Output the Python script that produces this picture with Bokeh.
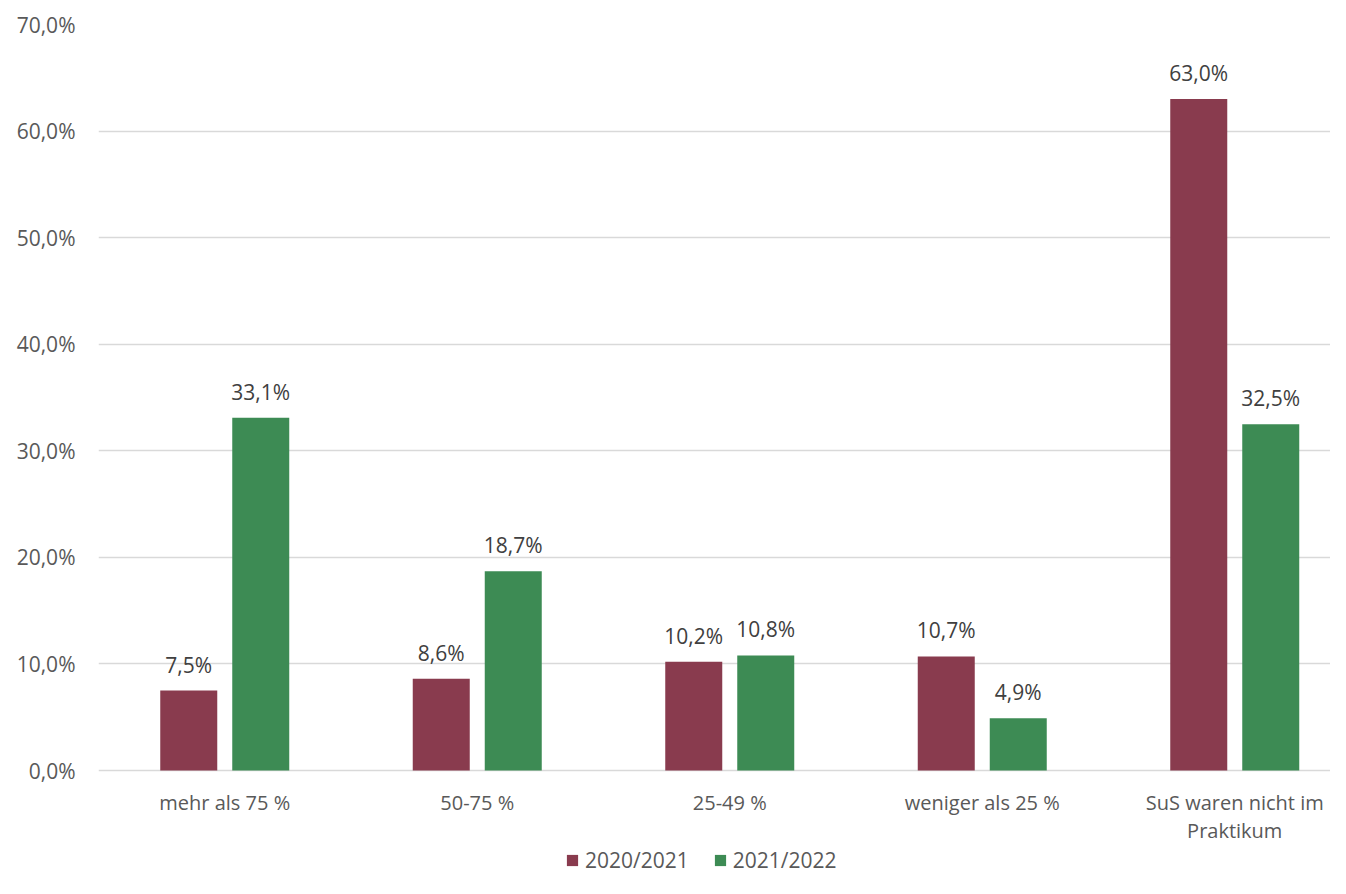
from bokeh.plotting import figure
from bokeh.models import ColumnDataSource, Range1d, FixedTicker, LabelSet, Legend, LegendItem
from bokeh.transform import dodge
from bokeh.core.properties import value
from bokeh.embed import file_html
from bokeh.resources import INLINE

categories = ["mehr als 75 %", "50-75 %", "25-49 %", "weniger als 25 %", "SuS waren nicht im\nPraktikum"]
series_names = ["2020/2021", "2021/2022"]
values_2020 = [7.5, 8.6, 10.2, 10.7, 63.0]
values_2021 = [33.1, 18.7, 10.8, 4.9, 32.5]
y_ticks = [0, 10, 20, 30, 40, 50, 60, 70]
colors = ["#893B4E", "#3D8B54"]

FONT = "Open Sans"
FS = "21px"
W, H = 1330, 878
LEFT, TOP = 98, 24
ZERO_Y = 770            # pixel row of the 0 % line
cat_px = 252.5
frame_w = W - LEFT
px_per_unit = (ZERO_Y - TOP) / 70.0
y_bottom = -(H - ZERO_Y) / px_per_unit

def fmt(v):
    return f"{v:.1f}".replace(".", ",") + "%"

lines = [c.split("\n") for c in categories]
src = ColumnDataSource(dict(
    xi=list(range(len(categories))),
    cat1=[l[0] for l in lines],
    cat2=[l[1] if len(l) > 1 else "" for l in lines],
    zero=[0] * len(categories),
    v1=values_2020, v2=values_2021,
    l1=[fmt(v) for v in values_2020], l2=[fmt(v) for v in values_2021],
))

p = figure(width=W, height=H, output_backend="svg", toolbar_location=None,
           x_axis_location=None,
           x_range=Range1d(-0.5, -0.5 + frame_w / cat_px), y_range=Range1d(y_bottom, 70),
           min_border_left=LEFT, min_border_right=0, min_border_top=TOP, min_border_bottom=0)
p.outline_line_color = None
p.background_fill_color = "white"
p.border_fill_color = "white"

bw = 57 / cat_px
off = 36 / cat_px
r1 = p.vbar(x=dodge("xi", -off, range=p.x_range), top="v1", bottom=0, width=bw, source=src,
            fill_color=colors[0], line_color=None)
r2 = p.vbar(x=dodge("xi", off, range=p.x_range), top="v2", bottom=0, width=bw, source=src,
            fill_color=colors[1], line_color=None)

for col, lab, o in (("v1", "l1", -off), ("v2", "l2", off)):
    p.add_layout(LabelSet(x=dodge("xi", o, range=p.x_range), y=col, text=lab, source=src,
                          text_align="center", text_baseline="bottom", y_offset=12,
                          text_font=value(FONT), text_font_size=FS, text_color="#404040"))

# category labels (x axis), one LabelSet per text line
for field, yo in (("cat1", -18), ("cat2", -46)):
    p.add_layout(LabelSet(x="xi", y="zero", text=field, source=src,
                          text_align="center", text_baseline="top", y_offset=yo,
                          text_font=value(FONT), text_font_size="20px", text_color="#595959"))

p.xgrid.grid_line_color = None
p.ygrid.grid_line_color = "#d9d9d9"
p.ygrid.grid_line_width = 1.5
p.ygrid.ticker = FixedTicker(ticks=y_ticks)

p.yaxis.ticker = FixedTicker(ticks=y_ticks)
p.yaxis.major_label_overrides = {t: fmt(t) for t in y_ticks}
p.yaxis.axis_line_color = None
p.yaxis.major_tick_line_color = None
p.yaxis.minor_tick_line_color = None
p.yaxis.major_label_text_font = FONT
p.yaxis.major_label_text_font_size = FS
p.yaxis.major_label_text_color = "#595959"
p.yaxis.major_label_standoff = 17

legend = Legend(items=[LegendItem(label=series_names[0], renderers=[r1]),
                       LegendItem(label=series_names[1], renderers=[r2])],
                location=(467, 4), orientation="horizontal",
                padding=0, margin=0, spacing=24, label_standoff=6,
                glyph_width=14, glyph_height=14, label_height=20,
                label_text_font=FONT, label_text_font_size=FS, label_text_color="#595959",
                border_line_alpha=0, background_fill_alpha=0)
p.add_layout(legend, "center")

open("out.html", "w").write(file_html(p, INLINE))
